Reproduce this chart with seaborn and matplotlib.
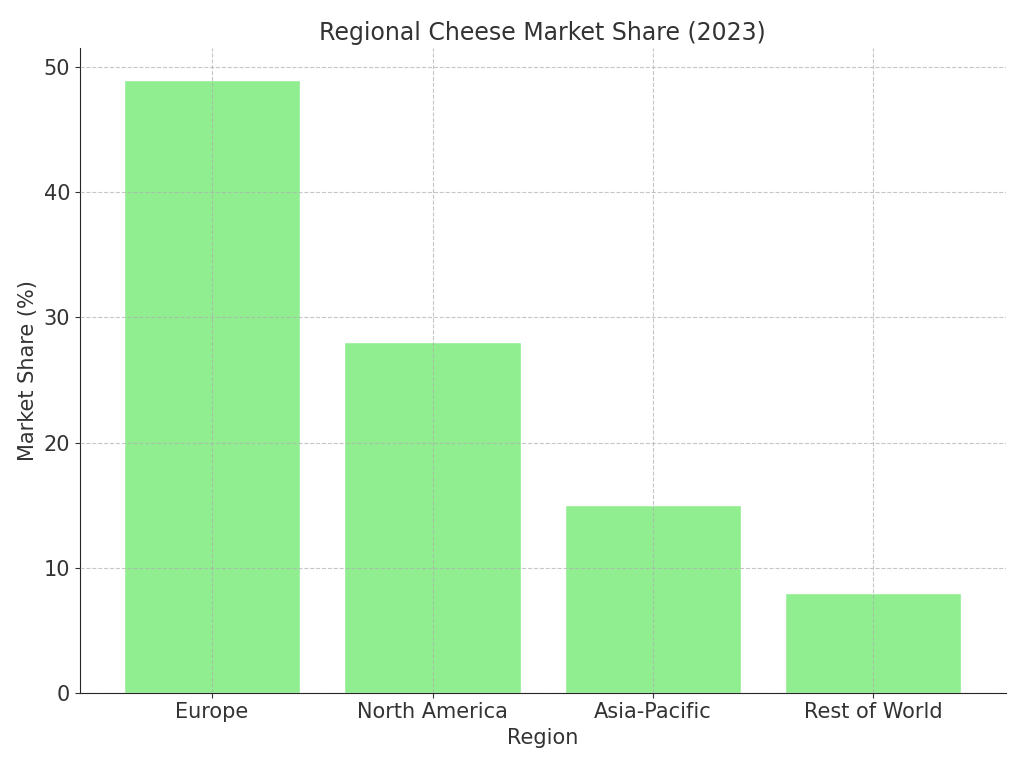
import matplotlib
matplotlib.use('Agg')
import matplotlib.pyplot as plt
import seaborn as sns
import pandas as pd

regions = ['Europe', 'North America', 'Asia-Pacific', 'Rest of World']
share = [49, 28, 15, 8]

df = pd.DataFrame({'Region': regions, 'Market Share (%)': share})

sns.set_style('ticks')
plt.rcParams['font.family'] = ['DejaVu Sans']

fig, ax = plt.subplots(figsize=(10.24, 7.68), dpi=100)
sns.barplot(data=df, x='Region', y='Market Share (%)', color='#90EE90',
            saturation=1, width=0.8, ax=ax)

ax.set_axisbelow(False)
ax.grid(True, linestyle='--', linewidth=0.8, color='#b0b0b0', alpha=0.7)
ax.set_xlim(-0.6, 3.6)
ax.set_ylim(0, 51.5)
ax.set_title('Regional Cheese Market Share (2023)', fontsize=17, color='#333333')
ax.set_xlabel('Region', fontsize=15, color='#333333')
ax.set_ylabel('Market Share (%)', fontsize=15, color='#333333')
ax.tick_params(labelsize=15, colors='#333333')
sns.despine(ax=ax)

plt.subplots_adjust(left=0.078, right=0.982, top=0.937, bottom=0.098)
plt.savefig('out.png', dpi=100)
